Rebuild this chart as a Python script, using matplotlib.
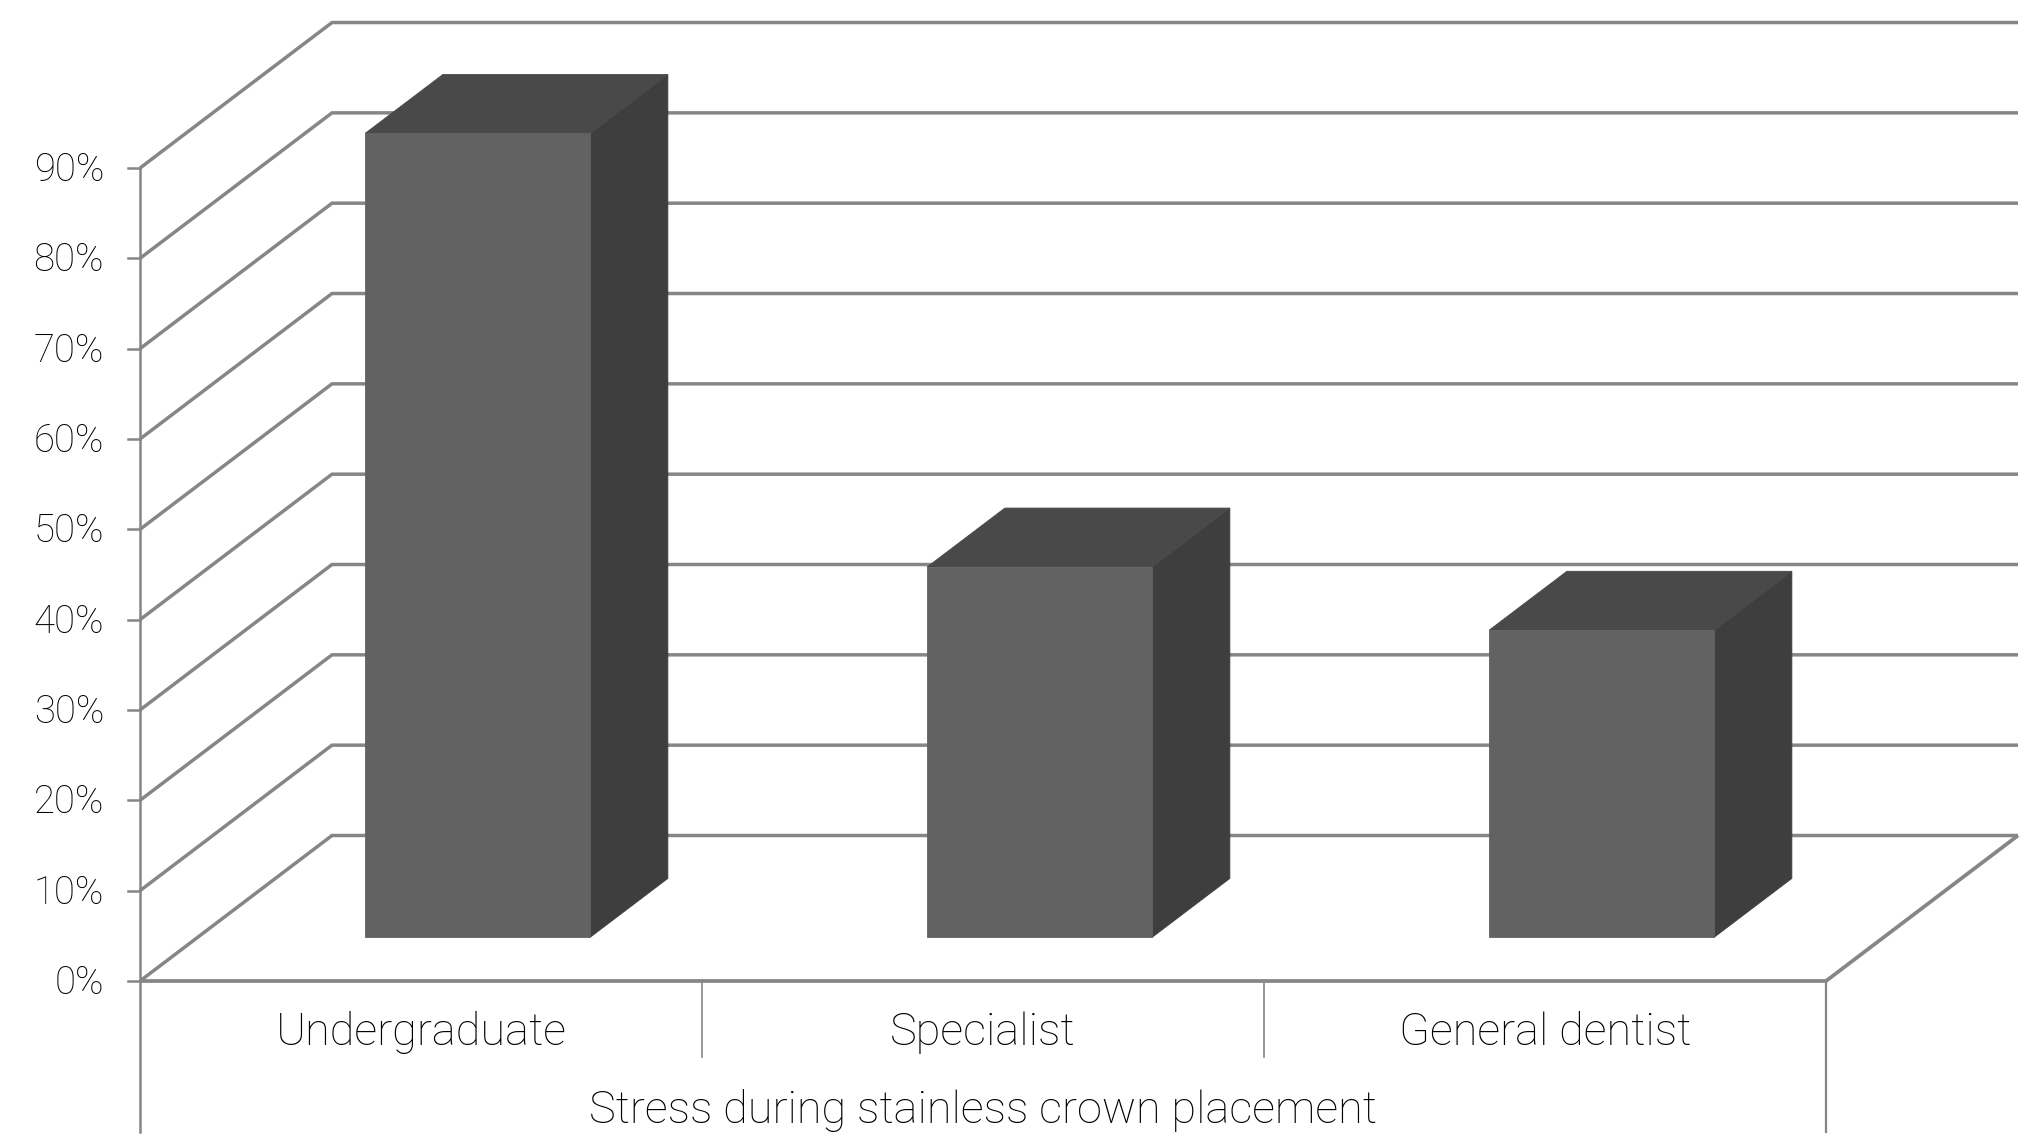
"""3D-look column chart: stress during stainless crown placement."""

from __future__ import annotations

import matplotlib
matplotlib.use("Agg")
import matplotlib.pyplot as plt

categories = ["Undergraduate", "Specialist", "General dentist"]
values = [89.0, 41.0, 34.0]
tick_values = [0, 10, 20, 30, 40, 50, 60, 70, 80, 90]
group_label = "Stress during stainless crown placement"

LINE = "#868686"
FRONT = "#626262"
TOP = "#494949"
SIDE = "#3e3e3e"
TEXT = "#000000"

# pixel layout of the plot, used only to set up the axes scale
W, H = 2044, 1147
X0, XU = 140.0, 562.0  # px of category 0, px per category
Y0, YU = 981.0, 9.033  # px of 0%, px per percent
DX = 192.0 / XU  # depth shear, in category units
DY = 145.5 / YU  # depth shear, in percent


def proj(x, v, d=0.0):
    # oblique projection: depth d (0 front .. 1 back)
    return x + d * DX, v + d * DY


def line(ax, pts, lw, z=1):
    xs = [p[0] for p in pts]
    ys = [p[1] for p in pts]
    ax.plot(xs, ys, color=LINE, lw=lw, zorder=z, solid_capstyle="butt", solid_joinstyle="miter")


def poly(ax, pts, color, z=3):
    ax.fill([p[0] for p in pts], [p[1] for p in pts], facecolor=color, edgecolor=color, lw=0.6, zorder=z)


def main() -> None:
    plt.rcParams["font.family"] = ["Roboto", "DejaVu Sans"]
    fig = plt.figure(figsize=(W / 100, H / 100), dpi=100)
    ax = fig.add_axes([0, 0, 1, 1])
    ax.set_xlim(-X0 / XU, (W - X0) / XU)
    ax.set_ylim((Y0 - H) / YU, Y0 / YU)
    ax.axis("off")

    n = len(categories)
    tick_len = 12.5 / XU

    # walls: gridline runs from the axis back, then along the back wall
    for v in tick_values:
        line(ax, [proj(0, v), proj(0, v, 1), proj(n, v, 1)], 2.5)
        ax.plot([-tick_len, 0], [v, v], color=LINE, lw=1.8, zorder=1)
        ax.text(-36 / XU, v - 0.25, f"{v}%", ha="right", va="center", fontsize=27.5, color=TEXT, fontweight="light")

    # floor and axes
    line(ax, [proj(0, 0), proj(n, 0), proj(n, 0, 1)], 2.7, z=2)
    ax.plot([0, 0], [tick_values[-1], (Y0 - 1132) / YU], color=LINE, lw=1.8, zorder=2)
    ax.plot([n, n], [0, (Y0 - 1132) / YU], color=LINE, lw=1.6, zorder=2)
    for i in range(1, n):
        ax.plot([i, i], [0, (Y0 - 1057) / YU], color=LINE, lw=1.2, zorder=2)

    # columns
    half = 225.0 / XU / 2
    shift = -1.0 / XU
    d0, d1 = 0.30, 0.705
    for i, val in enumerate(values):
        xl, xr = i + 0.5 - half + shift, i + 0.5 + half + shift
        poly(ax, [proj(xr, 0, d0), proj(xr, 0, d1), proj(xr, val, d1), proj(xr, val, d0)], SIDE)
        poly(ax, [proj(xl, val, d0), proj(xr, val, d0), proj(xr, val, d1), proj(xl, val, d1)], TOP)
        poly(ax, [proj(xl, 0, d0), proj(xr, 0, d0), proj(xr, val, d0), proj(xl, val, d0)], FRONT)
        ax.text(i + 0.5, (Y0 - 1033) / YU, categories[i], ha="center", va="center",
                fontsize=32.5, color=TEXT, fontweight="light")

    ax.text(n / 2, (Y0 - 1110) / YU, group_label, ha="center", va="center",
            fontsize=32.5, color=TEXT, fontweight="light")

    fig.savefig("out.png", dpi=100)


if __name__ == "__main__":
    main()
